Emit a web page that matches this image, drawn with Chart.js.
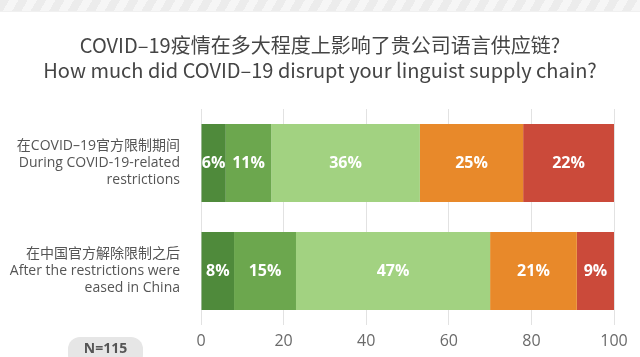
<!DOCTYPE html>
<html>
<head>
<meta charset="utf-8">
<script src="https://cdn.jsdelivr.net/npm/chart.js@4.4.1/dist/chart.umd.min.js"></script>
<style>
html,body{margin:0;padding:0;background:#fff;width:640px;height:357px;overflow:hidden;}
#stripe{position:absolute;left:0;top:0;width:640px;height:11px;
background:repeating-linear-gradient(120deg,#ececec 0px,#ececec 8px,#f6f6f6 8px,#f6f6f6 16px);
border-bottom:1px solid #f0f0f0;}
#wrap{position:absolute;left:0;top:0;width:640px;height:357px;}
#n{position:absolute;left:68px;top:337px;width:75px;height:30px;border-radius:12px;background:#e6e6e6;
color:#555;font:bold 14px "Open Sans",sans-serif;text-align:center;line-height:22px;}
</style>
</head>
<body>
<div id="stripe"></div>
<div id="wrap"><canvas id="c" width="640" height="357"></canvas></div>
<div id="n">N=115</div>
<script>
const categories = [
  ['在COVID–19官方限制期间','During COVID-19-related','restrictions'],
  ['在中国官方解除限制之后','After the restrictions were','eased in China']
];
const seriesNames = ['s1','s2','s3','s4','s5'];
const s1 = [6, 8];
const s2 = [11, 15];
const s3 = [36, 47];
const s4 = [25, 21];
const s5 = [22, 9];
const colors = ['#4f8a3b','#6ca74e','#a2d281','#e8892a','#cb4a3a'];
const tickValues = [0,20,40,60,80,100];
const titleLines = ['COVID–19疫情在多大程度上影响了贵公司语言供应链?','How much did COVID–19 disrupt your linguist supply chain?'];

const seriesData = [s1,s2,s3,s4,s5];
const TITLE_FONT = {family:'"Noto Sans CJK SC",sans-serif',size:20,weight:'normal',lineHeight:1.25};
const TITLE_PAD = {top:12,bottom:26};

const labelPlugin = {
  id:'segLabels',
  afterDatasetsDraw(chart){
    const ctx = chart.ctx;
    ctx.save();
    ctx.fillStyle = '#fff';
    ctx.font = 'bold 16px "Open Sans", sans-serif';
    ctx.textAlign = 'center';
    ctx.textBaseline = 'middle';
    chart.data.datasets.forEach((ds,i)=>{
      const meta = chart.getDatasetMeta(i);
      meta.data.forEach((bar,j)=>{
        const cx = (bar.x + bar.base)/2;
        ctx.fillText(ds.data[j] + '%', cx, bar.y);
      });
    });
    ctx.restore();
  }
};

const centeredTitle = {
  id:'centeredTitle',
  afterDraw(chart){
    const tb = chart.titleBlock;
    if(!tb) return;
    const ctx = chart.ctx;
    ctx.save();
    ctx.fillStyle = '#454545';
    ctx.font = TITLE_FONT.size + 'px ' + TITLE_FONT.family;
    ctx.textAlign = 'center';
    ctx.textBaseline = 'middle';
    const lh = TITLE_FONT.size * TITLE_FONT.lineHeight;
    titleLines.forEach((t,i)=>{
      ctx.fillText(t, chart.width/2, tb.top + TITLE_PAD.top + lh*(i+0.5));
    });
    ctx.restore();
  }
};

new Chart(document.getElementById('c'), {
  type:'bar',
  data:{
    labels: categories,
    datasets: seriesData.map((d,i)=>({
      label: seriesNames[i],
      data: d,
      backgroundColor: colors[i],
      borderWidth:0,
      barPercentage:0.72,
      categoryPercentage:1
    }))
  },
  options:{
    indexAxis:'y',
    responsive:false,
    animation:false,
    layout:{padding:{top:21,right:26,bottom:0,left:0}},
    plugins:{
      legend:{display:false},
      tooltip:{enabled:false},
      title:{
        display:true,
        text:titleLines,
        color:'rgba(0,0,0,0)',
        font:TITLE_FONT,
        padding:TITLE_PAD
      }
    },
    scales:{
      x:{
        stacked:true,
        min:0,max:100,
        afterBuildTicks(axis){ axis.ticks = tickValues.map(v=>({value:v})); },
        afterFit(axis){ axis.height = 32; },
        grid:{color:'#e2e2e2',drawTicks:false,lineWidth:1},
        border:{display:false},
        ticks:{color:'#6a6a6a',padding:7,font:{family:'"Open Sans",sans-serif',size:16}}
      },
      y:{
        stacked:true,
        grid:{display:false},
        border:{display:false},
        afterFit(axis){ axis.width = 201; axis.paddingTop = 0; axis.paddingBottom = 0; },
        ticks:{color:'#555',padding:13,font:{family:'"Open Sans","Noto Sans CJK SC",sans-serif',size:14,lineHeight:1.18}}
      }
    }
  },
  plugins:[labelPlugin, centeredTitle]
});
</script>
</body>
</html>
